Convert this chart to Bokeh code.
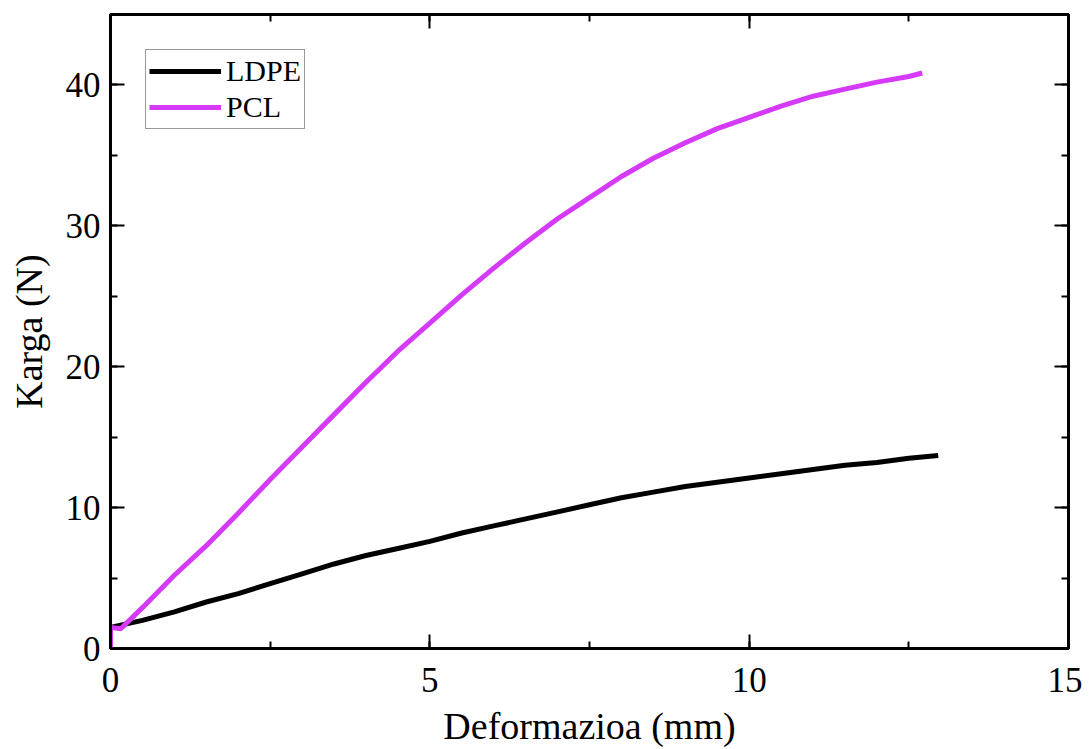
from bokeh.plotting import figure
from bokeh.models import Range1d, LinearAxis, SingleIntervalTicker, Legend, LegendItem, CustomJSTickFormatter
from bokeh.embed import file_html
from bokeh.resources import INLINE

# Data
ldpe_x = [0, 0, 0.5, 1.0, 1.5, 2.0, 2.5, 3.0, 3.5, 4.0, 4.5, 5.0, 5.5, 6.0, 6.5, 7.0,
          7.5, 8.0, 8.5, 9.0, 9.5, 10.0, 10.5, 11.0, 11.5, 12.0, 12.5, 12.96]
ldpe_y = [0, 1.5, 2.0, 2.6, 3.3, 3.9, 4.6, 5.3, 6.0, 6.6, 7.1, 7.6, 8.2, 8.7, 9.2, 9.7,
          10.2, 10.7, 11.1, 11.5, 11.8, 12.1, 12.4, 12.7, 13.0, 13.2, 13.5, 13.7]

pcl_x = [0, 0, 0.16, 0.5, 1.0, 1.5, 2.0, 2.5, 3.0, 3.5, 4.0, 4.5, 5.0, 5.5, 6.0, 6.5,
         7.0, 7.5, 8.0, 8.5, 9.0, 9.5, 10.0, 10.5, 11.0, 11.5, 12.0, 12.5, 12.71]
pcl_y = [0, 1.5, 1.4, 2.9, 5.2, 7.3, 9.6, 12.0, 14.3, 16.6, 18.9, 21.1, 23.1, 25.1, 27.0, 28.8,
         30.5, 32.0, 33.5, 34.8, 35.9, 36.9, 37.7, 38.5, 39.2, 39.7, 40.2, 40.6, 40.85]

series_names = ["LDPE", "PCL"]
x_title = "Deformazioa (mm)"
y_title = "Karga (N)"

FONT = "Liberation Serif"
BLACK = "#000000"
MAGENTA = "#D53AF8"

p = figure(width=1082, height=749, output_backend="svg", toolbar_location=None,
           x_range=Range1d(0, 15), y_range=Range1d(0, 45),
           min_border_left=110, min_border_right=14, min_border_top=14, min_border_bottom=91)
p.xgrid.visible = False
p.ygrid.visible = False
p.outline_line_color = BLACK
p.outline_line_width = 3
p.background_fill_color = "white"
p.border_fill_color = "white"

r1 = p.line(ldpe_x, ldpe_y, line_color=BLACK, line_width=5)
r2 = p.line(pcl_x, pcl_y, line_color=MAGENTA, line_width=5)

def style_axis(ax, labels=True):
    ax.axis_line_color = BLACK
    ax.axis_line_width = 3
    ax.major_tick_in = 14
    ax.major_tick_out = 0
    ax.minor_tick_in = 7
    ax.minor_tick_out = 0
    ax.major_tick_line_width = 2
    ax.minor_tick_line_width = 2
    ax.major_tick_line_color = BLACK
    ax.minor_tick_line_color = BLACK
    ax.major_label_text_font = FONT
    ax.major_label_text_color = BLACK
    ax.axis_label_text_font = FONT
    ax.axis_label_text_font_style = "normal"
    ax.axis_label_text_color = BLACK
    ax.major_label_text_font_size = "35px"
    ax.axis_label_text_font_size = "38px"
    if not labels:
        ax.formatter = CustomJSTickFormatter(code="return '';")
        ax.major_label_standoff = 0

xt = SingleIntervalTicker(interval=5, num_minor_ticks=2)
yt = SingleIntervalTicker(interval=10, num_minor_ticks=2)

p.xaxis.ticker = xt
p.yaxis.ticker = yt
style_axis(p.xaxis[0])
style_axis(p.yaxis[0])
p.xaxis.axis_label = x_title
p.yaxis.axis_label = y_title
p.xaxis.major_label_standoff = 19
p.yaxis.major_label_standoff = 10
p.xaxis.axis_label_standoff = 10
p.yaxis.axis_label_standoff = 13

top = LinearAxis(ticker=SingleIntervalTicker(interval=5, num_minor_ticks=2))
style_axis(top, labels=False)
p.add_layout(top, "above")
right = LinearAxis(ticker=SingleIntervalTicker(interval=10, num_minor_ticks=2))
style_axis(right, labels=False)
p.add_layout(right, "right")

legend = Legend(items=[LegendItem(label=series_names[0], renderers=[r1]),
                       LegendItem(label=series_names[1], renderers=[r2])],
                location="top_left", margin=35, padding=3, spacing=0,
                glyph_width=72, glyph_height=36, label_height=36, label_standoff=5,
                label_text_font=FONT, label_text_font_size="30px", label_text_color=BLACK,
                border_line_color="#333333", border_line_width=1.5,
                background_fill_color="white", background_fill_alpha=1)
p.add_layout(legend)

open("out.html", "w").write(file_html(p, INLINE))
